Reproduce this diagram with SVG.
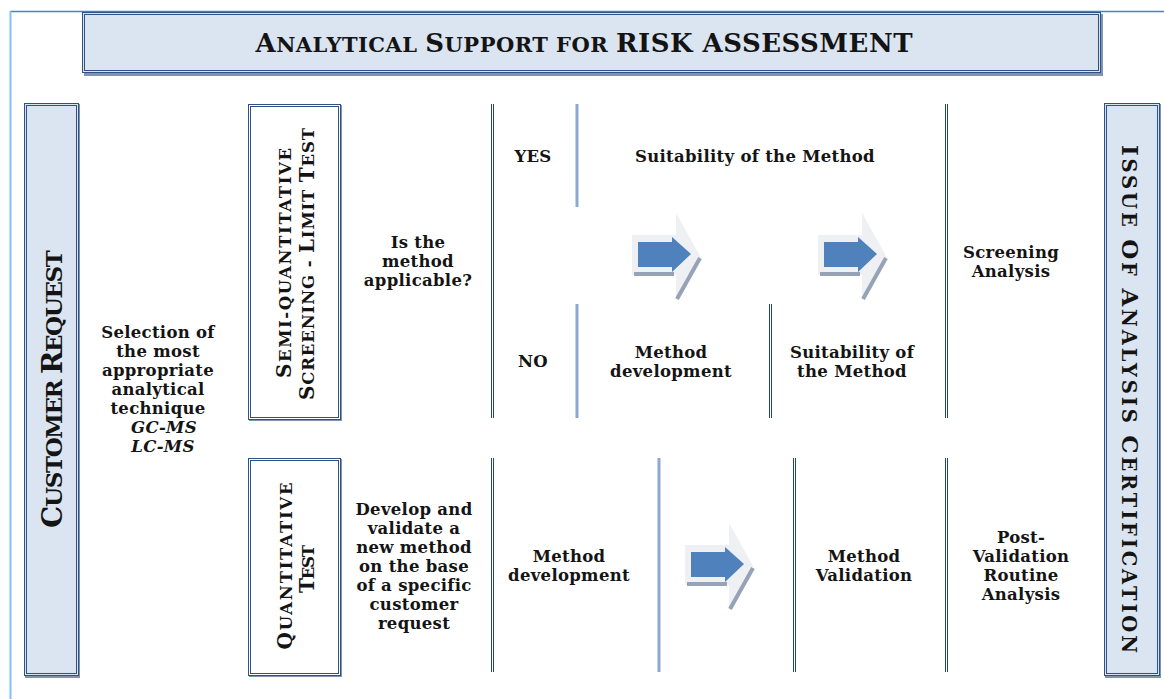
<svg xmlns="http://www.w3.org/2000/svg" xmlns:xlink="http://www.w3.org/1999/xlink" width="1164" height="699" viewBox="0 0 1164 699">
  <style>
    .t { font-family: "DejaVu Serif", "Liberation Serif", serif; font-weight: bold; fill: #141414; font-size: 16.5px; text-anchor: middle; letter-spacing: 0.3px; }
    .it { font-style: italic; }
    .cap { font-family: "DejaVu Serif", "Liberation Serif", serif; font-weight: bold; fill: #141414; text-anchor: middle; }
    .panel { fill: #dbe5f1; stroke: #2f5286; stroke-width: 1; }
    .panelw { fill: #ffffff; stroke: #2f5286; stroke-width: 1; }
    .inner { fill: none; stroke: #2f5286; stroke-width: 1; }
    .shadow { fill: #8193ad; }
    .dk { stroke: #24467e; stroke-width: 1; }
    .lt { stroke: #8ea9cf; stroke-width: 3; }
  </style>
  <defs>
    <!-- beveled block arrow, origin at its left/top corner -->
    <g id="blockArrow">
      <polygon points="0,22 44,22 44,0 68,43 44,87 44,62 0,62" fill="#eef0f3"/>
      <polyline points="2,61 42,61" fill="none" stroke="#96a3b6" stroke-width="4"/>
      <polyline points="68,45 45,86" fill="none" stroke="#96a3b6" stroke-width="4"/>
      <polygon points="6,29 40,29 40,24 59,41 40,59 40,54 6,54" fill="#4f81bd"/>
    </g>
  </defs>

  <!-- page frame -->
  <g id="frame">
    <line x1="10" y1="11.5" x2="1164" y2="11.5" stroke="#3f86c8" stroke-width="1.5"/>
    <line x1="10.5" y1="11" x2="10.5" y2="699" stroke="#86c0f2" stroke-width="2"/>
  </g>

  <!-- title banner -->
  <g id="title">
    <rect class="shadow" x="84" y="14" width="1019" height="62"/>
    <rect class="panel" x="82.5" y="12.5" width="1018" height="60"/>
    <rect class="inner" x="84.5" y="14.5" width="1014" height="56"/>
    <text class="cap" x="584" y="52" textLength="657" lengthAdjust="spacing"><tspan font-size="26">A</tspan><tspan font-size="21">NALYTICAL </tspan><tspan font-size="26">S</tspan><tspan font-size="21">UPPORT FOR </tspan><tspan font-size="26">RISK ASSESSMENT</tspan></text>
  </g>

  <!-- left panel -->
  <g id="customer-request">
    <rect class="shadow" x="25" y="104" width="55" height="574"/>
    <rect class="panel" x="24.5" y="103.5" width="54" height="572"/>
    <rect class="inner" x="26.5" y="105.5" width="50" height="568"/>
    <text class="cap" transform="translate(62,389) rotate(-90)" textLength="278" lengthAdjust="spacing"><tspan font-size="28">C</tspan><tspan font-size="23">USTOMER </tspan><tspan font-size="28">R</tspan><tspan font-size="23">EQUEST</tspan></text>
  </g>

  <!-- right panel -->
  <g id="issue-certification">
    <rect class="shadow" x="1105" y="104" width="56" height="574"/>
    <rect class="panel" x="1104.5" y="103.5" width="55" height="572"/>
    <rect class="inner" x="1106.5" y="105.5" width="51" height="568"/>
    <text class="cap" transform="translate(1122,399) rotate(90)" textLength="508" lengthAdjust="spacing"><tspan font-size="23">I</tspan><tspan font-size="19.5">SSUE </tspan><tspan font-size="23">O</tspan><tspan font-size="19.5">F </tspan><tspan font-size="23">A</tspan><tspan font-size="19.5">NALYSIS </tspan><tspan font-size="23">C</tspan><tspan font-size="19.5">ERTIFICATION</tspan></text>
  </g>

  <g id="selection">
    <text class="t" x="158" y="338">Selection of</text>
    <text class="t" x="158" y="357">the most</text>
    <text class="t" x="158" y="376">appropriate</text>
    <text class="t" x="158" y="395">analytical</text>
    <text class="t" x="158" y="414">technique</text>
    <text class="t it" x="164" y="433">GC-MS</text>
    <text class="t it" x="163" y="452">LC-MS</text>
  </g>

  <!-- screening row header -->
  <g id="semi-quantitative">
    <rect class="shadow" x="249" y="105" width="93" height="316"/>
    <rect class="panelw" x="248.5" y="104.5" width="92" height="315"/>
    <rect class="inner" x="250.5" y="106.5" width="88" height="311"/>
    <text class="cap" transform="translate(291,263) rotate(-90)" textLength="230" lengthAdjust="spacing"><tspan font-size="20">S</tspan><tspan font-size="16.5">EMI-QUANTITATIVE</tspan></text>
    <text class="cap" transform="translate(314,264) rotate(-90)" textLength="272" lengthAdjust="spacing"><tspan font-size="20">S</tspan><tspan font-size="16.5">CREENING - </tspan><tspan font-size="20">L</tspan><tspan font-size="16.5">IMIT </tspan><tspan font-size="20">T</tspan><tspan font-size="16.5">EST</tspan></text>
  </g>

  <!-- quantitative row header -->
  <g id="quantitative">
    <rect class="shadow" x="249" y="459" width="93" height="218"/>
    <rect class="panelw" x="248.5" y="458.5" width="92" height="217"/>
    <rect class="inner" x="250.5" y="460.5" width="88" height="213"/>
    <text class="cap" transform="translate(292,566) rotate(-90)" textLength="167" lengthAdjust="spacing"><tspan font-size="20">Q</tspan><tspan font-size="16.5">UANTITATIVE</tspan></text>
    <text class="cap" transform="translate(314,569) rotate(-90)" textLength="48" lengthAdjust="spacing"><tspan font-size="20">T</tspan><tspan font-size="16.5">EST</tspan></text>
  </g>

  <g id="applicable">
    <text class="t" x="418" y="248">Is the</text>
    <text class="t" x="418" y="267">method</text>
    <text class="t" x="418" y="286">applicable?</text>
  </g>

  <g id="yes"><text class="t" x="533" y="162">YES</text></g>
  <g id="suitability-yes"><text class="t" x="755" y="162">Suitability of the Method</text></g>
  <g id="no"><text class="t" x="533" y="367">NO</text></g>
  <g id="method-development-no">
    <text class="t" x="671" y="358">Method</text>
    <text class="t" x="671" y="377">development</text>
  </g>
  <g id="suitability-no">
    <text class="t" x="852" y="358">Suitability of</text>
    <text class="t" x="852" y="377">the Method</text>
  </g>
  <g id="screening-analysis">
    <text class="t" x="1011" y="258">Screening</text>
    <text class="t" x="1011" y="277">Analysis</text>
  </g>

  <g id="develop-validate">
    <text class="t" x="414" y="515">Develop and</text>
    <text class="t" x="414" y="534">validate a</text>
    <text class="t" x="414" y="553">new method</text>
    <text class="t" x="414" y="572">on the base</text>
    <text class="t" x="414" y="591">of a specific</text>
    <text class="t" x="414" y="610">customer</text>
    <text class="t" x="414" y="629">request</text>
  </g>
  <g id="method-development-q">
    <text class="t" x="569" y="562">Method</text>
    <text class="t" x="569" y="581">development</text>
  </g>
  <g id="method-validation">
    <text class="t" x="864" y="562">Method</text>
    <text class="t" x="864" y="581">Validation</text>
  </g>
  <g id="routine-analysis">
    <text class="t" x="1021" y="543">Post-</text>
    <text class="t" x="1021" y="562">Validation</text>
    <text class="t" x="1021" y="581">Routine</text>
    <text class="t" x="1021" y="600">Analysis</text>
  </g>

  <!-- column dividers and flow arrows -->
  <g id="connectors">
    <line class="dk" x1="491.5" y1="104" x2="491.5" y2="418"/>
    <line class="dk" x1="493.5" y1="104" x2="493.5" y2="418"/>
    <line class="lt" x1="577" y1="104" x2="577" y2="207"/>
    <line class="lt" x1="577" y1="304" x2="577" y2="418"/>
    <line class="dk" x1="769.5" y1="304" x2="769.5" y2="418"/>
    <line class="dk" x1="771.5" y1="304" x2="771.5" y2="418"/>
    <line class="dk" x1="945.5" y1="104" x2="945.5" y2="418"/>
    <line class="dk" x1="947.5" y1="104" x2="947.5" y2="418"/>

    <line class="dk" x1="491.5" y1="458" x2="491.5" y2="672"/>
    <line class="dk" x1="493.5" y1="458" x2="493.5" y2="672"/>
    <line class="lt" x1="659" y1="458" x2="659" y2="672"/>
    <line class="dk" x1="793.5" y1="458" x2="793.5" y2="672"/>
    <line class="dk" x1="795.5" y1="458" x2="795.5" y2="672"/>
    <line class="dk" x1="945.5" y1="458" x2="945.5" y2="672"/>
    <line class="dk" x1="947.5" y1="458" x2="947.5" y2="672"/>

    <use xlink:href="#blockArrow" transform="translate(632,213)"/>
    <use xlink:href="#blockArrow" transform="translate(818,213)"/>
    <use xlink:href="#blockArrow" transform="translate(685,523)"/>
  </g>
</svg>
